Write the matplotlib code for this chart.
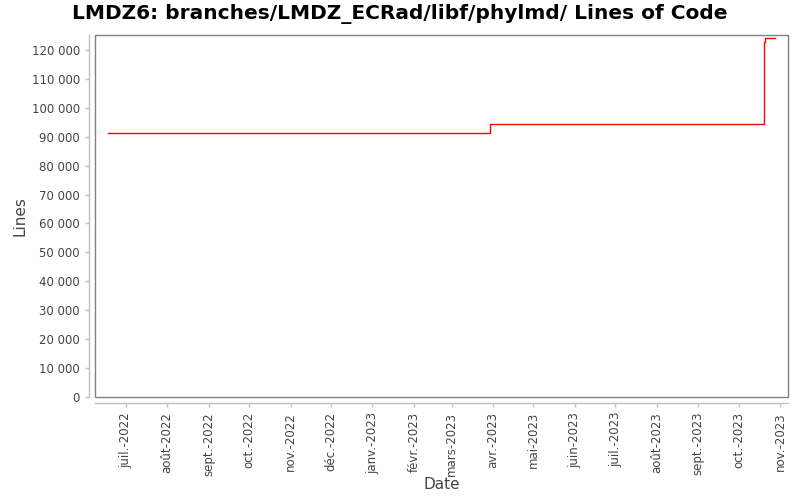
import matplotlib
matplotlib.use("Agg")
import matplotlib.pyplot as plt
from matplotlib.patches import Rectangle
from matplotlib.ticker import FuncFormatter
import datetime as dt

# Data
dates = ["2022-06-18", "2022-06-29", "2022-07-18", "2023-01-25", "2023-03-30",
         "2023-08-07", "2023-10-20", "2023-10-21", "2023-10-28"]
lines = [91500, 91500, 91500, 91500, 94280, 94620, 123000, 124100, 124100]

tick_dates = ["2022-07-01", "2022-08-01", "2022-09-01", "2022-10-01", "2022-11-01",
              "2022-12-01", "2023-01-01", "2023-02-01", "2023-03-01", "2023-04-01",
              "2023-05-01", "2023-06-01", "2023-07-01", "2023-08-01", "2023-09-01",
              "2023-10-01", "2023-11-01"]
tick_labels = ["juil.-2022", "août-2022", "sept.-2022", "oct.-2022", "nov.-2022",
               "déc.-2022", "janv.-2023", "févr.-2023", "mars-2023", "avr.-2023",
               "mai-2023", "juin-2023", "juil.-2023", "août-2023", "sept.-2023",
               "oct.-2023", "nov.-2023"]
y_ticks = list(range(0, 130000, 10000))

title = "LMDZ6: branches/LMDZ_ECRad/libf/phylmd/ Lines of Code"

to_dt = lambda s: dt.datetime.strptime(s, "%Y-%m-%d")
x = [to_dt(d) for d in dates]
xt = [to_dt(d) for d in tick_dates]

fig = plt.figure(figsize=(8, 5), dpi=100)
ax = fig.add_axes([94.7/800, 1-397.3/500, (788.3-94.7)/800, (397.3-34.5)/500])

ax.plot(x, lines, drawstyle="steps-post", color="#ff0000", lw=1)

ax.set_xlim(to_dt("2022-06-08"), to_dt("2023-11-07"))
ax.set_ylim(-200, 125450)

ax.set_xticks(xt)
ax.set_xticklabels(tick_labels)
ax.set_yticks(y_ticks)
ax.yaxis.set_major_formatter(FuncFormatter(lambda v, p: f"{v:,.0f}".replace(",", " ")))

for s in ["top", "right"]:
    ax.spines[s].set_visible(False)
for s in ["left", "bottom"]:
    ax.spines[s].set_position(("outward", 4))
    ax.spines[s].set_color("#c0c0c0")
    ax.spines[s].set_linewidth(1)
ax.add_patch(Rectangle((0, 0), 1, 1, transform=ax.transAxes, fill=False,
                       edgecolor="#808080", lw=1, clip_on=False, zorder=5))

ax.tick_params(axis="both", colors="#c0c0c0", labelcolor="#444444",
               labelsize=8.5, length=3, width=1)
ax.tick_params(axis="x", labelrotation=90)

ax.set_xlabel("Date", fontsize=11, color="#444444", labelpad=1)
ax.set_ylabel("Lines", fontsize=11, color="#444444", labelpad=3)
fig.suptitle(title, fontsize=14.5, fontweight="bold", y=0.992, x=0.5, va="top")

fig.savefig("out.png", dpi=100)
